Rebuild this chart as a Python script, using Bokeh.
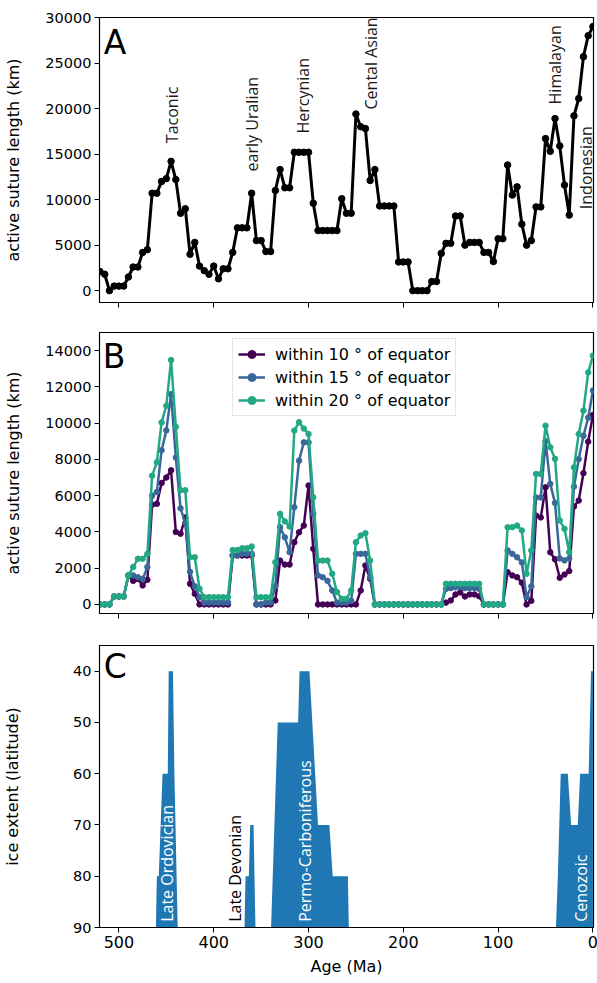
import math
from bokeh.plotting import figure
from bokeh.models import Range1d, FixedTicker, Label, Legend, LegendItem
from bokeh.layouts import column
from bokeh.embed import file_html
from bokeh.resources import INLINE

# ---------------- data ----------------
ages = [520, 515, 510, 505, 500, 495, 490, 485, 480, 475, 470, 465, 460, 455, 450,
        445, 440, 435, 430, 425, 420, 415, 410, 405, 400, 395, 390, 385, 380, 375,
        370, 365, 360, 355, 350, 345, 340, 335, 330, 325, 320, 315, 310, 305, 300,
        295, 290, 285, 280, 275, 270, 265, 260, 255, 250, 245, 240, 235, 230, 225,
        220, 215, 210, 205, 200, 195, 190, 185, 180, 175, 170, 165, 160, 155, 150,
        145, 140, 135, 130, 125, 120, 115, 110, 105, 100, 95, 90, 85, 80, 75,
        70, 65, 60, 55, 50, 45, 40, 35, 30, 25, 20, 15, 10, 5, 0]

suture_total = [2100, 1800, 0, 500, 500, 500, 1500, 2600, 2600, 4200, 4500, 10700, 10700, 12000, 12300,
                14200, 12200, 8500, 9000, 4000, 5300, 2700, 2200, 1800, 2700, 1300, 2400, 2400, 4200, 6900,
                6900, 6900, 10700, 5500, 5500, 4300, 4300, 11000, 13300, 11300, 11300, 15200, 15200, 15200, 15200,
                9600, 6600, 6600, 6600, 6600, 6600, 10100, 8500, 8500, 19400, 18000, 17800, 12100, 13300, 9300,
                9300, 9300, 9300, 3150, 3150, 3150, 0, 0, 0, 0, 1000, 1000, 4100, 5200, 5200,
                8200, 8200, 5000, 5300, 5300, 5300, 4200, 4200, 3200, 5700, 5700, 13800, 10500, 11400, 7300,
                5000, 5500, 9200, 9200, 16700, 15300, 18900, 15900, 11600, 8300, 19200, 21100, 25700, 28000, 29000]

within10 = [0, 0, 0, 440, 440, 440, 1600, 1300, 1400, 1050, 1360, 5500, 5550, 6700, 7000,
            7400, 4000, 3900, 4800, 1140, 590, 0, 0, 0, 0, 0, 0, 0, 2700, 2700,
            2700, 2700, 2700, 0, 0, 0, 0, 220, 2420, 2200, 2200, 3430, 3980, 4350, 6560,
            3070, 0, 0, 0, 0, 0, 0, 0, 0, 0, 770, 2150, 1420, 0, 0,
            0, 0, 0, 0, 0, 0, 0, 0, 0, 0, 0, 0, 0, 100, 220,
            550, 660, 440, 550, 550, 450, 0, 0, 0, 0, 0, 1780, 1600, 1500, 1200,
            0, 200, 4900, 4800, 6460, 2880, 2490, 1470, 1650, 1840, 5400, 5730, 7240, 8980, 10450]

within15 = [0, 0, 0, 440, 440, 440, 1600, 1600, 1500, 1400, 2060, 6000, 6200, 8500, 9600,
            11600, 8100, 5300, 4500, 1800, 1000, 400, 100, 100, 100, 100, 100, 100, 2700, 2700,
            2800, 2800, 2800, 0, 0, 100, 100, 1000, 4260, 3700, 2880, 5360, 7930, 8940, 8940,
            5000, 1600, 1500, 1300, 770, 100, 100, 100, 200, 2790, 2790, 2790, 1500, 0, 0,
            0, 0, 0, 0, 0, 0, 0, 0, 0, 0, 0, 0, 0, 860, 900,
            950, 950, 900, 900, 900, 860, 0, 0, 0, 0, 0, 2980, 2790, 2600, 2320,
            400, 1000, 5900, 5900, 9000, 6650, 5600, 2540, 2430, 2540, 6500, 8010, 9300, 10300, 11800]

within20 = [0, 0, 0, 440, 440, 440, 1600, 2060, 2520, 2520, 2790, 7100, 7840, 10040, 10960,
            13480, 9800, 6300, 6300, 2600, 2600, 870, 400, 400, 400, 400, 400, 400, 3000, 3000,
            3100, 3100, 3200, 400, 400, 400, 400, 2330, 5000, 4580, 4300, 9590, 10050, 9700, 9400,
            5910, 2420, 2420, 2420, 1690, 680, 310, 310, 770, 3430, 3800, 3930, 2420, 0, 0,
            0, 0, 0, 0, 0, 0, 0, 0, 0, 0, 0, 0, 0, 1140, 1140,
            1140, 1140, 1140, 1140, 1140, 1140, 0, 0, 0, 0, 0, 4260, 4260, 4350, 4080,
            1690, 2980, 7200, 7200, 9860, 8670, 8030, 4630, 4170, 2880, 7560, 9400, 10690, 12800, 13720]

series_names = ["within 10 \u00b0 of equator", "within 15 \u00b0 of equator", "within 20 \u00b0 of equator"]
series_colors = ["#440154", "#3a679a", "#22a884"]

ice_age = [461, 460, 458, 454, 448.5, 447.5, 443, 441.5, 438,
           367.5, 366.5, 363, 361.5, 358, 356,
           339.5, 332.5, 311, 309.5, 299, 290, 278, 274.5, 258.5, 257.5,
           39, 37, 34, 26.5, 23, 16, 13.5, 4.5, 2, 0]
ice_lat = [90, 80, 80, 60, 60, 40, 40, 60, 90,
           90, 80, 80, 70, 70, 90,
           90, 50, 50, 40, 40, 70, 70, 80, 80, 90,
           90, 80, 60, 60, 70, 70, 60, 60, 40, 40]
ice_base = [90] * len(ice_age)

x_ticks = [500, 400, 300, 200, 100, 0]
yticks_A = [0, 5000, 10000, 15000, 20000, 25000, 30000]
yticks_B = [0, 2000, 4000, 6000, 8000, 10000, 12000, 14000]
yticks_C = [40, 50, 60, 70, 80, 90]

orogeny_labels = ["Taconic", "early Uralian", "Hercynian", "Cental Asian", "Himalayan", "Indonesian"]
orogeny_pos = [(444, 16200), (359.5, 13100), (305.5, 17250), (234.5, 19900), (40.5, 20450), (7, 8950)]

glaciation_labels = ["Late Ordovician", "Late Devonian", "Permo-Carboniferous", "Cenozoic"]
glaciation_pos = [(449, 88.9), (378, 88.9), (304.2, 88.9), (12.3, 88.9)]
glaciation_colors = ["white", "black", "white", "white"]

# ---------------- styling helpers ----------------
YTICK_FONT = "14.5px"
XTICK_FONT = "16px"
LABEL_FONT = "16px"
ANN_FONT = "16px"


def make_fig(yr, frame_h, top, bottom):
    return figure(frame_width=494, frame_height=frame_h,
                  x_range=Range1d(520.5, -0.6), y_range=yr,
                  output_backend="svg", toolbar_location=None,
                  min_border_left=98, min_border_right=5,
                  min_border_top=top, min_border_bottom=bottom,
                  background_fill_color="white", border_fill_color="white")


def style(p, ylabel, yticks, show_x, label_standoff):
    p.outline_line_color = "black"
    p.outline_line_width = 1.2
    p.outline_line_alpha = 1
    p.xgrid.visible = False
    p.ygrid.visible = False
    p.xaxis.ticker = FixedTicker(ticks=x_ticks)
    p.yaxis.ticker = FixedTicker(ticks=yticks)
    for ax in (p.xaxis[0], p.yaxis[0]):
        ax.major_tick_out = 5
        ax.major_tick_in = 0
        ax.minor_tick_line_color = None
        ax.axis_line_color = "black"
        ax.major_tick_line_color = "black"
        ax.major_label_text_font = "DejaVu Sans"
        ax.major_label_text_color = "black"
        ax.axis_label_text_font = "DejaVu Sans"
        ax.axis_label_text_font_size = LABEL_FONT
        ax.axis_label_text_font_style = "normal"
        ax.axis_label_text_color = "black"
        ax.major_label_standoff = 3
        ax.axis_label_standoff = 6
    p.yaxis.axis_label_standoff = label_standoff
    p.yaxis.major_label_text_font_size = YTICK_FONT
    p.xaxis.major_label_text_font_size = XTICK_FONT
    p.yaxis.axis_label = ylabel
    if not show_x:
        p.xaxis.major_label_text_font_size = "1px"
        p.xaxis.major_label_text_color = None
        p.xaxis.major_label_standoff = 0


def panel_letter(p, txt, x, y):
    p.add_layout(Label(x=x, y=y, text=txt, text_font="DejaVu Sans",
                       text_font_size="33px", text_baseline="alphabetic",
                       text_align="left", text_color="black"))


# ---------------- panel A ----------------
pA = make_fig(Range1d(-1300, 30000), 285, 17, 14)
style(pA, "active suture length (km)", yticks_A, False, 19)
pA.line(ages, suture_total, line_color="black", line_width=3)
pA.scatter(ages, suture_total, size=6.5, fill_color="black", line_color="black")
for txt, (ax_, ay_) in zip(orogeny_labels, orogeny_pos):
    pA.add_layout(Label(x=ax_, y=ay_, text=txt, angle=math.pi / 2,
                        text_align="left", text_baseline="middle",
                        text_font="Open Sans", text_font_size=ANN_FONT,
                        text_color="#1a1a1a"))
panel_letter(pA, "A", 516, 27200)

# ---------------- panel B ----------------
pB = make_fig(Range1d(-500, 15000), 281, 16, 17)
style(pB, "active suture length (km)", yticks_B, False, 19)
items = []
for vals, col, name in zip([within10, within15, within20], series_colors, series_names):
    r1 = pB.line(ages, vals, line_color=col, line_width=2.5)
    r2 = pB.scatter(ages, vals, size=5.5, fill_color=col, line_color=col)
    items.append(LegendItem(label=name, renderers=[r1, r2]))
legend = Legend(items=items, location=(133, 197),
                label_text_font="DejaVu Sans", label_text_font_size="16px",
                label_text_color="black",
                glyph_width=27, glyph_height=20, label_height=20,
                label_standoff=10, spacing=3, padding=5, margin=0,
                border_line_color="#cccccc", border_line_width=1,
                background_fill_color="white", background_fill_alpha=0.85)
pB.add_layout(legend)
panel_letter(pB, "B", 517, 13650)

# ---------------- panel C ----------------
pC = make_fig(Range1d(90, 35), 282, 15, 48)
style(pC, "ice extent (latitude)", yticks_C, True, 48)
pC.xaxis.axis_label = "Age (Ma)"
pC.varea(x=ice_age, y1=ice_base, y2=ice_lat, fill_color="#1f77b4")
for txt, (gx, gy), col in zip(glaciation_labels, glaciation_pos, glaciation_colors):
    pC.add_layout(Label(x=gx, y=gy, text=txt, angle=math.pi / 2,
                        text_align="left", text_baseline="middle",
                        text_font="Open Sans", text_font_size=ANN_FONT,
                        text_color=col))
panel_letter(pC, "C", 516, 39.0)

layout = column(pA, pB, pC, spacing=0)
open("out.html", "w").write(file_html(layout, INLINE))
